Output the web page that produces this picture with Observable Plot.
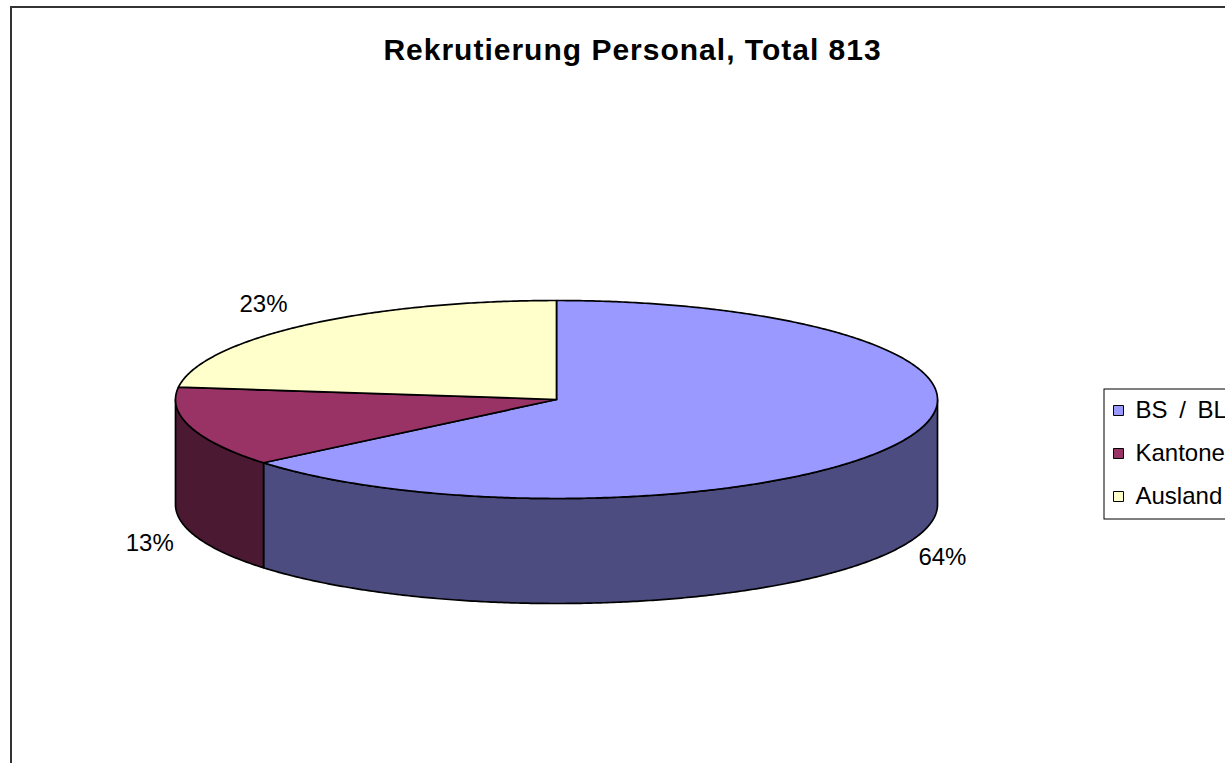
<!DOCTYPE html>
<html>
<head>
<meta charset="utf-8">
<script src="https://cdn.jsdelivr.net/npm/d3@7"></script>
<script src="https://cdn.jsdelivr.net/npm/@observablehq/plot@0.6"></script>
<style>
  html, body { margin: 0; padding: 0; background: #fff; overflow: hidden; width: 1225px; height: 763px; }
  #chart svg { display: block; overflow: hidden; }
</style>
</head>
<body>
<div id="chart"></div>
<script>
// ---- data ----
const titleText = "Rekrutierung Personal, Total 813";
const categories = ["BS / BL", "Kantone", "Ausland"];
const counts = [520, 106, 187];            // total 813
const percentLabels = ["64%", "13%", "23%"];
// ---- styles ----
const topColors = ["#9999FF", "#993366", "#FFFFCC"];
const sideColors = ["#4C4C80", "#4C1933", "#808066"];
const font = "'Liberation Sans', Arial, sans-serif";

// ---- layout (pixel space of the chart area) ----
const W = 1225, H = 763;
const cx = 556, cy = 399, rx = 381, ry = 99, depth = 105;

const arcs = d3.pie().sort(null).value(d => d)(counts);
const pt = (a, dz = 0) => ({x: cx + rx * Math.sin(a), y: cy - ry * Math.cos(a) + dz});
const step = Math.PI / 360;
function arcPts(a0, a1, dz) {
  const out = [];
  const n = Math.max(2, Math.ceil(Math.abs(a1 - a0) / step));
  for (let k = 0; k <= n; k++) out.push(pt(a0 + (a1 - a0) * k / n, dz));
  return out;
}

const tops = [], walls = [], labels = [];
arcs.forEach((s, i) => {
  const c = {x: cx, y: cy};
  [c, ...arcPts(s.startAngle, s.endAngle, 0), c].forEach(p => tops.push({...p, id: "t" + i, fill: topColors[i]}));
  const lo = Math.max(s.startAngle, Math.PI / 2), hi = Math.min(s.endAngle, 3 * Math.PI / 2);
  if (lo < hi) {
    const ring = [...arcPts(lo, hi, 0), ...arcPts(hi, lo, depth)];
    ring.push(ring[0]);
    ring.forEach(p => walls.push({...p, id: "w" + i, fill: sideColors[i]}));
  }
  const m = (s.startAngle + s.endAngle) / 2;
  const front = Math.cos(m) < 0;
  const e = pt(m, front ? depth : 0);
  labels.push({
    x: e.x + Math.sign(Math.sin(m)) * 41,
    y: e.y + (front ? 11 : -21),
    text: percentLabels[i]
  });
});

const legendX = 1118, legendTextX = 1135, legendY0 = 410, legendDy = 43;

const plot = Plot.plot({
  width: W, height: H, margin: 0,
  x: {domain: [0, W], range: [0, W], axis: null},
  y: {domain: [0, H], range: [0, H], axis: null},
  color: {type: "identity"},
  style: {fontFamily: font, background: "#fff"},
  marks: [
    Plot.rect([0], {x1: () => 11, y1: () => 7, x2: () => W + 60, y2: () => H + 60, fill: "none", stroke: "#333", strokeWidth: 2}),
    Plot.text([titleText], {frameAnchor: "top-left", dx: 632, dy: 50, textAnchor: "middle", lineAnchor: "middle",
      fontSize: 30, fontWeight: "bold", fill: "black", fontFamily: font}),
    Plot.line(walls, {x: "x", y: "y", z: "id", fill: "fill", stroke: "black", strokeWidth: 1.7, strokeLinejoin: "round", curve: "linear"}),
    Plot.line(tops, {x: "x", y: "y", z: "id", fill: "fill", stroke: "black", strokeWidth: 1.7, strokeLinejoin: "round", curve: "linear"}),
    Plot.text(labels, {x: "x", y: "y", text: "text", fontSize: 24, fill: "black", fontFamily: font, textAnchor: "middle", lineAnchor: "middle"}),
    Plot.rect([0], {x1: () => 1104, y1: () => 389, x2: () => W + 80, y2: () => 519, fill: "white", stroke: "black", strokeWidth: 1}),
    Plot.dot(categories, {x: () => legendX, y: (d, i) => legendY0 + legendDy * i, symbol: "square", r: 5.64,
      fill: (d, i) => topColors[i], stroke: "black", strokeWidth: 1}),
    Plot.text(categories, {x: () => legendTextX, y: (d, i) => legendY0 + legendDy * i, text: d => d, textAnchor: "start",
      lineAnchor: "middle", fontSize: 24, fill: "black", fontFamily: font})
  ]
});
// slightly wider glyph spacing, as in the original rendering
d3.select(plot).selectAll("text").filter(function() { return this.textContent === titleText; })
  .attr("letter-spacing", "1px");
d3.select(plot).selectAll("text").filter(function() { return this.textContent === "BS / BL"; })
  .attr("word-spacing", "5px");
document.getElementById("chart").appendChild(plot);
</script>
</body>
</html>
